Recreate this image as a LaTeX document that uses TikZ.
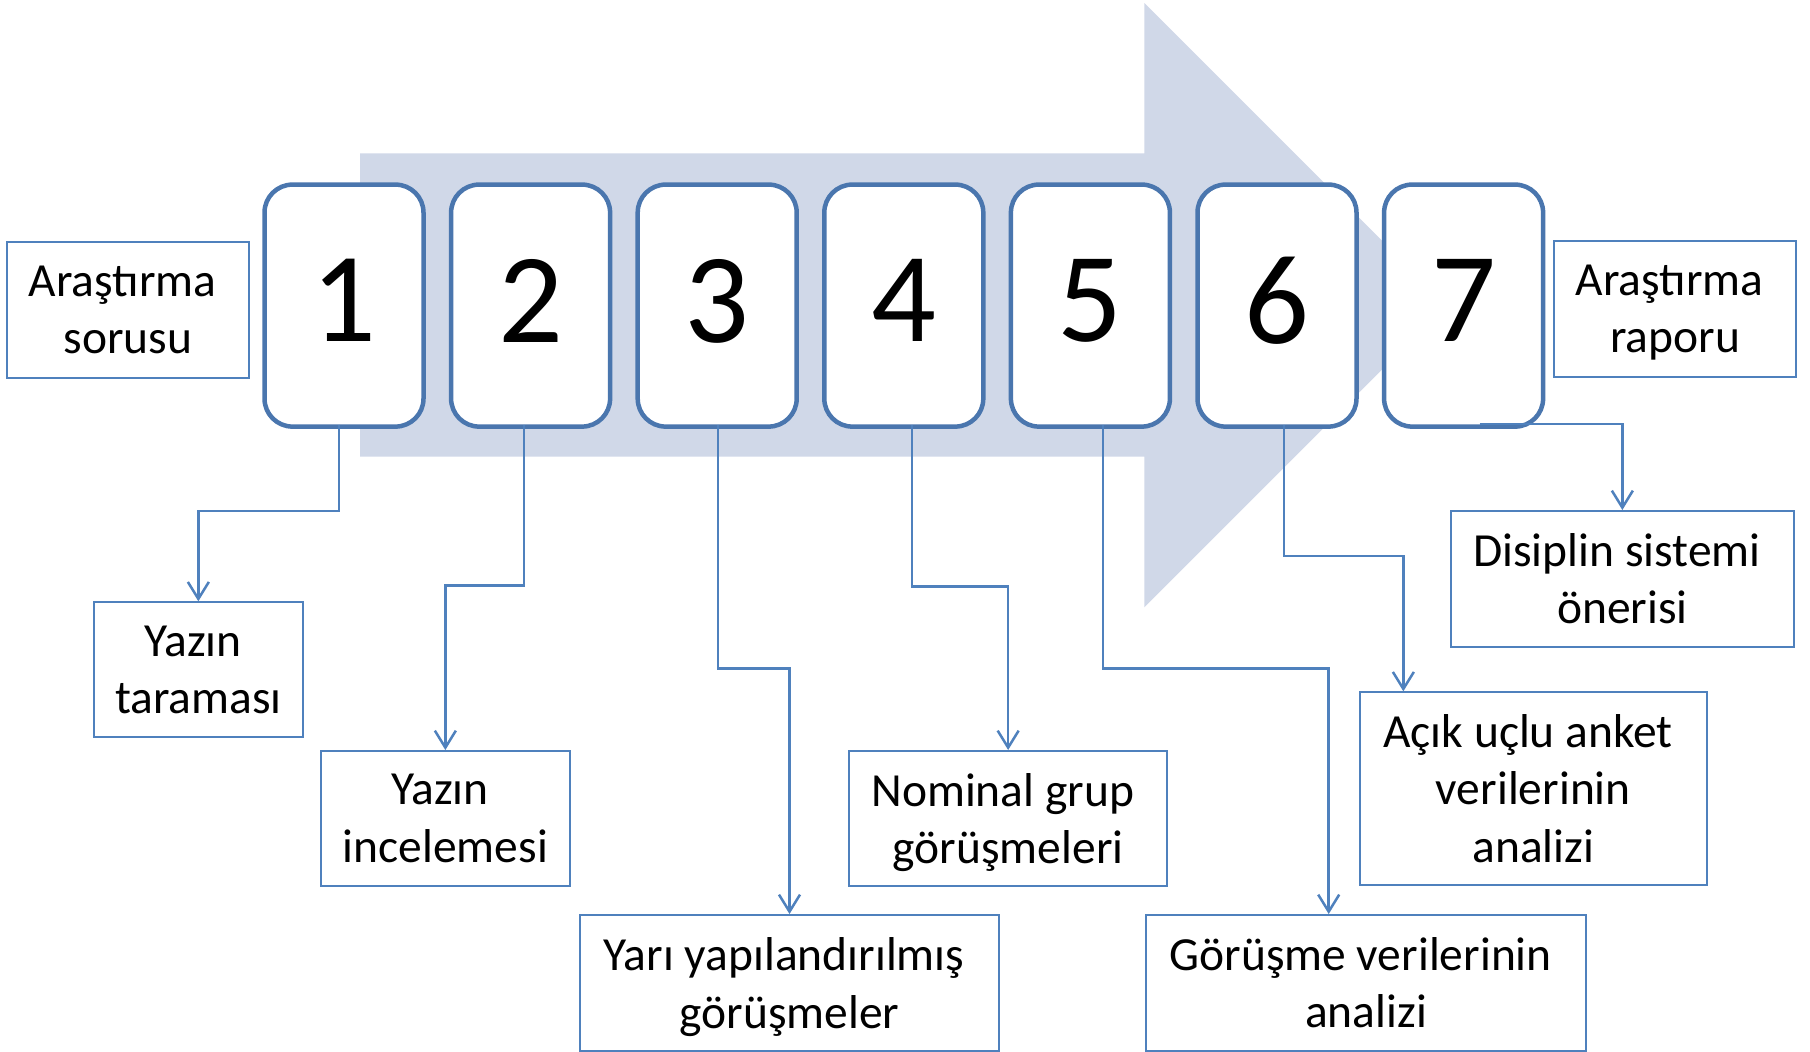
\documentclass[tikz,border=0pt]{standalone}
\usepackage{fontspec}
\setmainfont{Carlito}
\usetikzlibrary{arrows.meta,calc}
\definecolor{numline}{RGB}{74,118,174}
\definecolor{linkblue}{RGB}{79,129,189}
\definecolor{flowfill}{RGB}{208,216,232}
% a line whose descenders do not count for vertical centring
\newcommand{\nodepth}[1]{\raisebox{0pt}[\height][0pt]{#1}}
% space kept at the end of a wrapped line
\newcommand{\tsp}{\kern0.226em}
\begin{document}
\begin{tikzpicture}[x=1pt,y=-1pt,
  numbox/.style={draw=numline, line width=4.5pt, fill=white, rounded corners=28pt,
    minimum width=159pt, minimum height=242pt, inner sep=0pt,
    font=\fontsize{128}{128}\selectfont, text depth=10pt},
  txtbox/.style={draw=linkblue, line width=2pt, fill=white, inner sep=0pt,
    align=center, font=\fontsize{47.5}{57.5}\selectfont},
  conn/.style={draw=linkblue, line width=2.5pt,
    -{Straight Barb[length=17pt,width=21pt]}}]

% page frame
\fill[white] (0,0) rectangle (1810,1052);
\useasboundingbox (0,0) rectangle (1810,1052);

% large background arrow
\fill[flowfill] (360,153.3) -- (1144.3,153.3) -- (1144.3,3) -- (1446.4,305.15)
  -- (1144.3,607.3) -- (1144.3,456.7) -- (360,456.7) -- cycle;

% numbered steps
\foreach \i in {1,...,7}{
  \node[numbox] (n\i) at ({344+(\i-1)*186.6},305.6) {\i};
}

% labels
\node[txtbox, minimum width=242pt, minimum height=136.3pt] (q) at (128,309.85) {Araştırma\tsp\\sorusu};
\node[txtbox, minimum width=242pt, minimum height=136.3pt] (r) at (1675,308.85) {Araştırma\tsp\\\nodepth{raporu}};
\node[txtbox, minimum width=208.7pt, minimum height=135pt] (t1) at (198.35,669.8) {Yazın\tsp\\taraması};
\node[txtbox, minimum width=249.3pt, minimum height=135pt] (t2) at (445.35,818.5) {Yazın\tsp\\incelemesi};
\node[txtbox, minimum width=419pt, minimum height=135.7pt] (t3) at (789.5,982.85) {Yarı yapılandırılmış\tsp\\\nodepth{görüşmeler}};
\node[txtbox, minimum width=318.3pt, minimum height=135pt] (t4) at (1008.15,818.5) {Nominal grup\tsp\\\nodepth{görüşmeleri}};
\node[txtbox, minimum width=440pt, minimum height=135.7pt] (t5) at (1366,982.85) {Görüşme verilerinin\tsp\\analizi};
\node[txtbox, minimum width=346.7pt, minimum height=192.7pt] (t6) at (1533.35,788.65) {Açık uçlu anket\tsp\\verilerinin\\analizi};
\node[txtbox, minimum width=343.3pt, minimum height=135.7pt] (t7) at (1622.35,578.85) {Disiplin sistemi\tsp\\önerisi};

% connector start points on the step boxes
\coordinate (s1) at ([xshift=-5pt,yshift=4pt]n1.south);
\coordinate (s2) at ([xshift=-6.75pt,yshift=4pt]n2.south);
\coordinate (s3) at ([xshift=0.65pt,yshift=4pt]n3.south);
\coordinate (s4) at ([xshift=8pt,yshift=4pt]n4.south);
\coordinate (s5) at ([xshift=12.75pt,yshift=4pt]n5.south);
\coordinate (s6) at ([xshift=6.85pt,yshift=4pt]n6.south);
\coordinate (s7) at ([xshift=16pt,yshift=5pt]n7.south);

% connectors
\draw[conn] (s1) -- (s1 |- 0,511) -| (t1.north);
\draw[conn] (s2) -- (s2 |- 0,585.7) -| (t2.north);
\draw[conn] (s3) -- (s3 |- 0,668.3) -| (t3.north);
\draw[conn] (s4) -- (s4 |- 0,586.4) -| (t4.north);
\draw[conn] (s5) -- (s5 |- 0,668.3) -| ([xshift=-37.3pt]t5.north);
\draw[conn] (s6) -- (s6 |- 0,556) -| ([xshift=-130pt]t6.north);
\draw[conn] (s7) -| (t7.north);
\end{tikzpicture}
\end{document}
